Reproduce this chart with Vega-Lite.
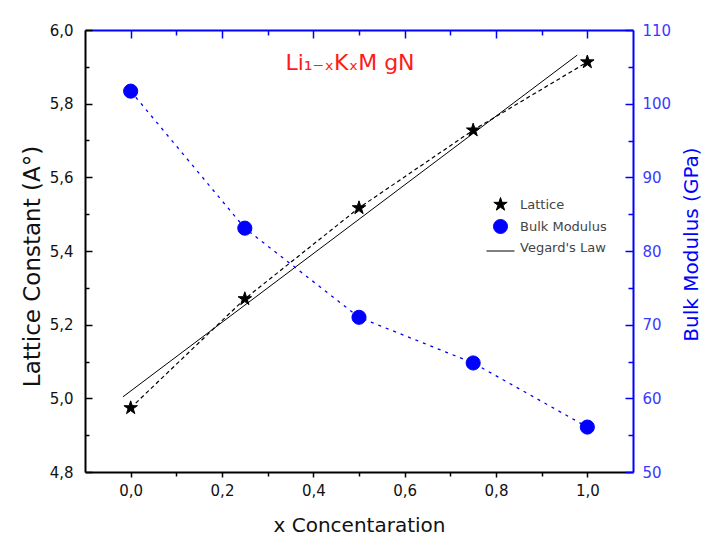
{
  "$schema": "https://vega.github.io/schema/vega-lite/v6.json",
  "width": 548,
  "height": 442,
  "autosize": {"type": "none"},
  "padding": {"left": 85, "top": 30, "right": 70, "bottom": 65},
  "background": "white",
  "config": {
    "view": {"stroke": null},
    "font": "DejaVu Sans",
    "axis": {
      "grid": false,
      "labelFont": "DejaVu Sans",
      "titleFont": "DejaVu Sans",
      "labelFontSize": 15,
      "titleFontSize": 20,
      "titleFontWeight": "normal",
      "labelColor": "#111111",
      "titleColor": "#111111",
      "domainWidth": 2,
      "tickWidth": 1.5
    }
  },
  "title": {
    "text": "Li₁₋ₓKₓM gN",
    "color": "#ff1a1a",
    "fontSize": 22,
    "fontWeight": "normal",
    "font": "DejaVu Sans",
    "anchor": "middle",
    "frame": "group",
    "baseline": "alphabetic",
    "offset": -69,
    "dx": -9
  },
  "datasets": {
    "lattice": [
      {"x": 0.0, "a": 4.974, "series": "Lattice"},
      {"x": 0.25, "a": 5.27, "series": "Lattice"},
      {"x": 0.5, "a": 5.517, "series": "Lattice"},
      {"x": 0.75, "a": 5.728, "series": "Lattice"},
      {"x": 1.0, "a": 5.913, "series": "Lattice"}
    ],
    "bulk": [
      {"x": 0.0, "b": 101.7, "series": "Bulk Modulus"},
      {"x": 0.25, "b": 83.1, "series": "Bulk Modulus"},
      {"x": 0.5, "b": 71.0, "series": "Bulk Modulus"},
      {"x": 0.75, "b": 64.8, "series": "Bulk Modulus"},
      {"x": 1.0, "b": 56.1, "series": "Bulk Modulus"}
    ],
    "vegard": [
      {"x": -0.017, "a": 5.004},
      {"x": 0.978, "a": 5.932}
    ]
  },
  "layer": [
    {
      "layer": [
        {
          "data": {"name": "vegard"},
          "mark": {"type": "line", "color": "black", "strokeWidth": 1},
          "encoding": {
            "x": {
              "field": "x", "type": "quantitative",
              "scale": {"domain": [-0.1, 1.1], "nice": false, "zero": false},
              "axis": {
                "orient": "bottom",
                "values": [0, 0.2, 0.4, 0.6, 0.8, 1.0],
                "labelExpr": "replace(format(datum.value, '.1f'), '.', ',')",
                "tickSize": 5,
                "labelPadding": 6,
                "domainColor": "black",
                "tickColor": "black",
                "title": "x Concentaration",
                "titleY": 59,
                "titleBaseline": "alphabetic"
              }
            },
            "y": {
              "field": "a", "type": "quantitative",
              "scale": {"domain": [4.8, 6.0], "nice": false, "zero": false},
              "axis": {
                "orient": "left",
                "values": [4.8, 5.0, 5.2, 5.4, 5.6, 5.8, 6.0],
                "labelExpr": "replace(format(datum.value, '.1f'), '.', ',')",
                "tickSize": -7,
                "labelPadding": 19,
                "domainColor": "black",
                "tickColor": "black",
                "title": "Lattice Constant (A°)",
                "titleFontSize": 23,
                "titleAngle": -90,
                "titleX": -46,
                "titleY": 236,
                "titleAlign": "center",
                "titleBaseline": "alphabetic"
              }
            }
          }
        },
        {
          "data": {"name": "lattice"},
          "mark": {"type": "line", "color": "black", "strokeWidth": 1.2, "strokeDash": [4, 3]},
          "encoding": {
            "x": {
              "field": "x", "type": "quantitative",
              "scale": {"domain": [-0.1, 1.1], "nice": false, "zero": false},
              "axis": {
                "orient": "bottom",
                "values": [0.1, 0.3, 0.5, 0.7, 0.9],
                "labels": false, "domain": false, "title": null,
                "tickSize": 4, "tickColor": "black"
              }
            },
            "y": {
              "field": "a", "type": "quantitative",
              "scale": {"domain": [4.8, 6.0], "nice": false, "zero": false},
              "axis": {
                "orient": "left",
                "values": [4.9, 5.1, 5.3, 5.5, 5.7, 5.9],
                "labels": false, "domain": false, "title": null,
                "tickSize": -4, "tickColor": "black"
              }
            }
          }
        },
        {
          "data": {"name": "lattice"},
          "mark": {"type": "point", "filled": true, "opacity": 1, "strokeWidth": 1},
          "encoding": {
            "x": {
              "field": "x", "type": "quantitative",
              "scale": {"domain": [-0.1, 1.1], "nice": false, "zero": false},
              "axis": {
                "orient": "top",
                "values": [0, 0.2, 0.4, 0.6, 0.8, 1.0],
                "labels": false, "title": null,
                "tickSize": -8, "tickColor": "blue", "domainColor": "blue"
              }
            },
            "y": {
              "field": "a", "type": "quantitative",
              "scale": {"domain": [4.8, 6.0], "nice": false, "zero": false},
              "axis": null
            },
            "fill": {
              "field": "series", "type": "nominal",
              "scale": {"domain": ["Lattice", "Bulk Modulus", "Vegard's Law"], "range": ["black", "blue", "black"]},
              "legend": {
                "orient": "none", "legendX": 408, "legendY": 167,
                "title": null, "padding": 0,
                "labelFont": "DejaVu Sans", "labelFontSize": 13, "labelColor": "#444444",
                "labelOffset": 12, "rowPadding": 4, "symbolSize": 196, "symbolStrokeWidth": 1
              }
            },
            "stroke": {
              "field": "series", "type": "nominal",
              "scale": {"domain": ["Lattice", "Bulk Modulus", "Vegard's Law"], "range": ["black", "blue", "black"]}
            },
            "shape": {
              "field": "series", "type": "nominal",
              "scale": {
                "domain": ["Lattice", "Bulk Modulus", "Vegard's Law"],
                "range": ["M0,-1L0.2245,-0.309L0.951,-0.309L0.363,0.118L0.588,0.809L0,0.382L-0.588,0.809L-0.363,0.118L-0.951,-0.309L-0.2245,-0.309Z", "circle", "M-2,0.5L2,0.5"]
              }
            },
            "size": {"value": 200}
          }
        }
      ],
      "resolve": {"axis": {"x": "independent", "y": "independent"}}
    },
    {
      "layer": [
        {
          "data": {"name": "bulk"},
          "mark": {"type": "line", "color": "blue", "strokeWidth": 1.3, "strokeDash": [3, 5]},
          "encoding": {
            "x": {
              "field": "x", "type": "quantitative",
              "scale": {"domain": [-0.1, 1.1], "nice": false, "zero": false},
              "axis": {
                "orient": "top",
                "values": [0.1, 0.3, 0.5, 0.7, 0.9],
                "labels": false, "domain": false, "title": null,
                "tickSize": -5, "tickColor": "blue"
              }
            },
            "y": {
              "field": "b", "type": "quantitative",
              "scale": {"domain": [50, 110], "nice": false, "zero": false},
              "axis": {
                "orient": "right",
                "values": [50, 60, 70, 80, 90, 100, 110],
                "format": "d",
                "tickSize": -8,
                "labelPadding": 17,
                "labelColor": "#3a3aff",
                "domainColor": "blue",
                "tickColor": "blue",
                "title": "Bulk Modulus (GPa)",
                "titleColor": "blue",
                "titleAngle": -90,
                "titleX": 64,
                "titleY": 214,
                "titleAlign": "center",
                "titleBaseline": "alphabetic"
              }
            }
          }
        },
        {
          "data": {"name": "bulk"},
          "mark": {"type": "point", "filled": true, "opacity": 1, "strokeWidth": 1},
          "encoding": {
            "x": {
              "field": "x", "type": "quantitative",
              "scale": {"domain": [-0.1, 1.1], "nice": false, "zero": false},
              "axis": null
            },
            "y": {
              "field": "b", "type": "quantitative",
              "scale": {"domain": [50, 110], "nice": false, "zero": false},
              "axis": {
                "orient": "right",
                "values": [55, 65, 75, 85, 95, 105],
                "labels": false, "domain": false, "title": null,
                "tickSize": -5, "tickColor": "blue"
              }
            },
            "fill": {
              "field": "series", "type": "nominal",
              "scale": {"domain": ["Lattice", "Bulk Modulus", "Vegard's Law"], "range": ["black", "blue", "black"]}
            },
            "stroke": {
              "field": "series", "type": "nominal",
              "scale": {"domain": ["Lattice", "Bulk Modulus", "Vegard's Law"], "range": ["black", "blue", "black"]}
            },
            "shape": {
              "field": "series", "type": "nominal",
              "scale": {
                "domain": ["Lattice", "Bulk Modulus", "Vegard's Law"],
                "range": ["M0,-1L0.2245,-0.309L0.951,-0.309L0.363,0.118L0.588,0.809L0,0.382L-0.588,0.809L-0.363,0.118L-0.951,-0.309L-0.2245,-0.309Z", "circle", "M-2,0.5L2,0.5"]
              }
            },
            "size": {"value": 200}
          }
        }
      ],
      "resolve": {"axis": {"x": "independent", "y": "independent"}}
    }
  ],
  "resolve": {"scale": {"y": "independent"}, "axis": {"x": "independent", "y": "independent"}}
}
